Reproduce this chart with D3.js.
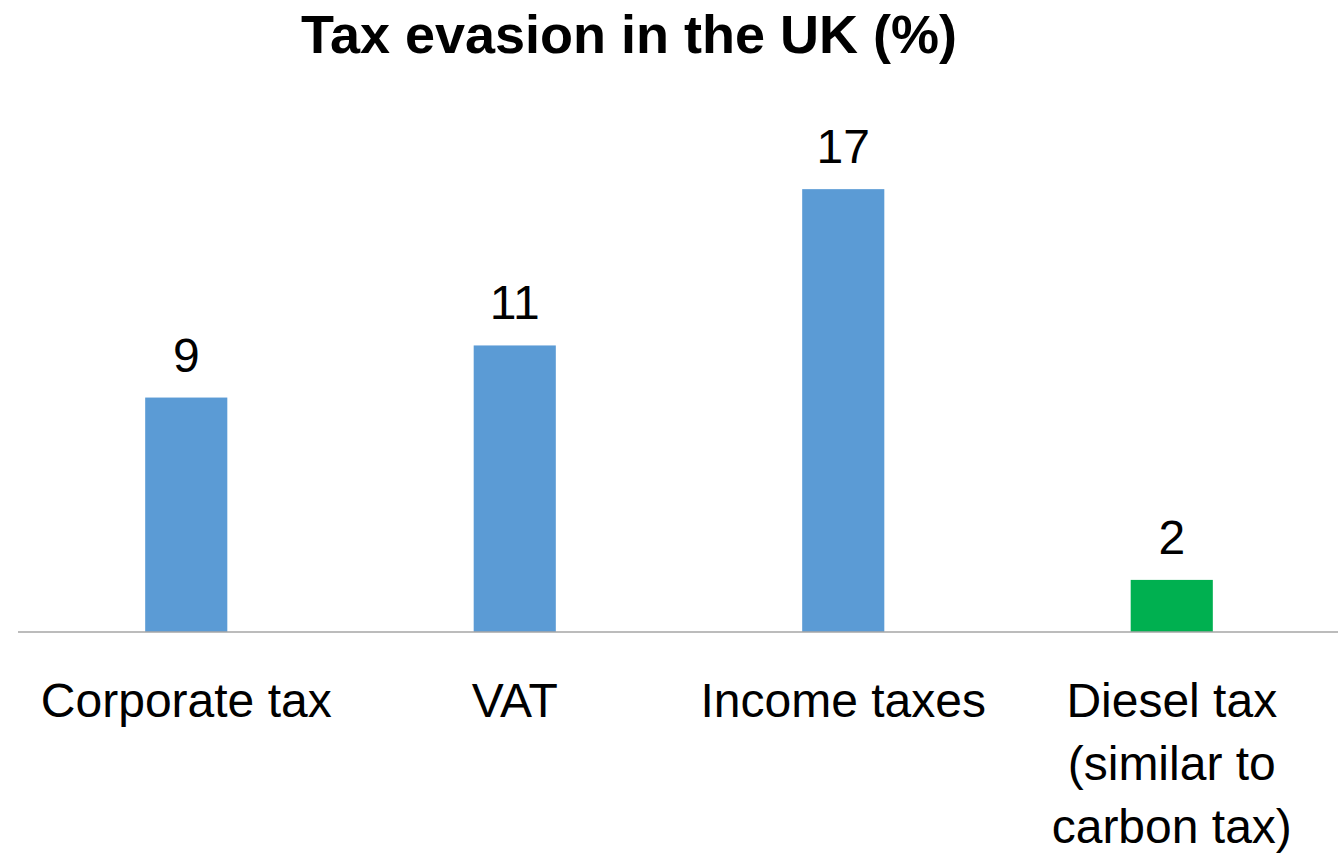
<!DOCTYPE html>
<html>
<head>
<meta charset="utf-8">
<script src="https://cdn.jsdelivr.net/npm/d3@7"></script>
<style>
  html, body { margin: 0; padding: 0; background: #ffffff; }
  svg { display: block; }
  text { font-family: "Liberation Sans", Arial, sans-serif; fill: #000000; }
</style>
</head>
<body>
<svg id="chart" width="1343" height="853"></svg>
<script>
// Tax evasion rates by type of tax, UK (%)
const categories = ["Corporate tax", "VAT", "Income taxes", "Diesel tax\n(similar to\ncarbon tax)"];
const values = [9, 11, 17, 2];
const barColors = ["#5b9bd5", "#5b9bd5", "#5b9bd5", "#00b050"];
const title = "Tax evasion in the UK (%)";

const svg = d3.select("#chart");

const x = d3.scaleBand()
  .domain(categories)
  .range([22, 1336])
  .paddingInner(0.75)
  .paddingOuter(0.375);

const y = d3.scaleLinear()
  .domain([0, 20])
  .range([632, 111]);

// Title
svg.append("text")
  .attr("x", 629)
  .attr("y", 53)
  .attr("text-anchor", "middle")
  .style("font-size", "54px")
  .style("font-weight", "bold")
  .text(title);

// Bars
svg.selectAll("rect.bar")
  .data(values)
  .join("rect")
  .attr("class", "bar")
  .attr("x", (d, i) => x(categories[i]))
  .attr("y", d => y(d))
  .attr("width", x.bandwidth())
  .attr("height", d => y(0) - y(d))
  .attr("fill", (d, i) => barColors[i]);

// Baseline
svg.append("line")
  .attr("x1", 18)
  .attr("x2", 1338)
  .attr("y1", y(0))
  .attr("y2", y(0))
  .attr("stroke", "#a6a6a6")
  .attr("stroke-width", 1.5);

// Value labels
svg.selectAll("text.value")
  .data(values)
  .join("text")
  .attr("class", "value")
  .attr("x", (d, i) => x(categories[i]) + x.bandwidth() / 2)
  .attr("y", d => y(d) - 26)
  .attr("text-anchor", "middle")
  .style("font-size", "48px")
  .text(d => d);

// Category labels (multi-line)
const catLabels = svg.selectAll("text.cat")
  .data(categories)
  .join("text")
  .attr("class", "cat")
  .attr("text-anchor", "middle")
  .style("font-size", "48px");

catLabels.each(function(c) {
  const cx = x(c) + x.bandwidth() / 2;
  d3.select(this).selectAll("tspan")
    .data(c.split("\n"))
    .join("tspan")
    .attr("x", cx)
    .attr("y", (line, j) => 717 + j * 63)
    .text(line => line);
});
</script>
</body>
</html>
